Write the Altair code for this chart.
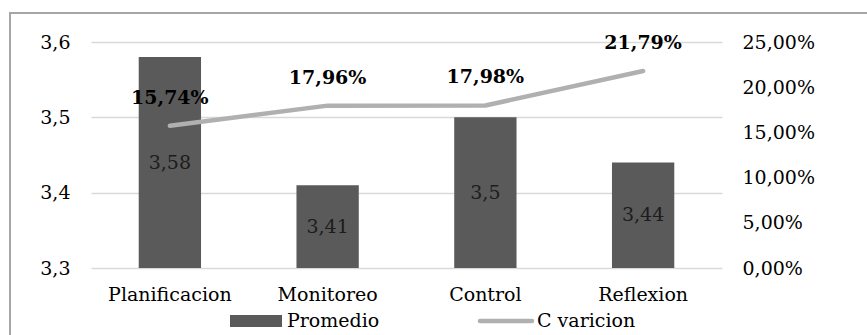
import altair as alt
import pandas as pd

# Chart data
categorias = ["Planificacion", "Monitoreo", "Control", "Reflexion"]
promedio = [3.58, 3.41, 3.5, 3.44]
variacion = [0.1574, 0.1796, 0.1798, 0.2179]
leyenda = ["Promedio", "C varicion"]

df = pd.DataFrame({"categoria": categorias, "promedio": promedio, "variacion": variacion})

FONT = "DejaVu Serif"
BAR = "#5a5a5a"
LINE = "#b0b0b0"
GRID = "#d9d9d9"
FS = 19

W, H = 631, 226
PAD = {"left": 91, "top": 42, "right": 867 - 91 - W, "bottom": 335 - 42 - H}

x = alt.X(
    "categoria:N",
    sort=categorias,
    scale=alt.Scale(paddingInner=0.605, paddingOuter=0.3025),
    axis=alt.Axis(title=None, labelAngle=0, ticks=False, domain=False,
                  labelPadding=17, labelFontSize=FS, labelFont=FONT,
                  labelColor="#000000"),
)

y_left = alt.Scale(domain=[3.3, 3.6], nice=False, zero=False)
y_right = alt.Scale(domain=[0, 0.25], nice=False, zero=True)

axis_left = alt.Axis(title=None, values=[3.3, 3.4, 3.5, 3.6], ticks=False,
                     domain=False, grid=True, gridColor=GRID, gridWidth=1.5,
                     labelPadding=21, labelFontSize=FS, labelFont=FONT,
                     labelColor="#000000",
                     labelExpr="replace(format(datum.value, '.1f'), '.', ',')")
axis_right = alt.Axis(title=None, orient="right", values=[0, 0.05, 0.1, 0.15, 0.2, 0.25],
                      ticks=False, domain=False, grid=False, labelPadding=20,
                      labelFontSize=FS, labelFont=FONT, labelColor="#000000",
                      labelAlign="left",
                      labelExpr="replace(format(datum.value, '.2%'), '.', ',')")

base = alt.Chart(df)

bars = base.mark_bar(color=BAR).encode(
    x=x,
    y=alt.Y("promedio:Q", scale=y_left, axis=axis_left),
    y2=alt.datum(3.3),
)

bar_labels = base.transform_calculate(
    mid="(3.3 + datum.promedio) / 2",
    txt="replace(toString(datum.promedio), '.', ',')",
).mark_text(font=FONT, fontSize=FS, color="#1c1c1c", baseline="middle").encode(
    x=x,
    y=alt.Y("mid:Q", scale=y_left, axis=axis_left),
    text="txt:N",
)

line = base.mark_line(color=LINE, strokeWidth=4.5, strokeCap="round", strokeJoin="round").encode(
    x=x,
    y=alt.Y("variacion:Q", scale=y_right, axis=axis_right),
)

line_labels = base.transform_calculate(
    txt="replace(format(datum.variacion, '.2%'), '.', ',')"
).mark_text(font=FONT, fontSize=FS, fontWeight="bold", color="#000000",
            baseline="alphabetic", dy=-22).encode(
    x=x,
    y=alt.Y("variacion:Q", scale=y_right, axis=axis_right),
    text="txt:N",
)

# Outer frame around the chart
frame = alt.Chart(pd.DataFrame({"k": [0]})).mark_rect(
    fill=None, stroke="#a6a6a6", strokeWidth=2
).encode(x=alt.value(-81), x2=alt.value(W + 200), y=alt.value(-29), y2=alt.value(H + 200))

# Legend drawn below the axis
leg = pd.DataFrame({"nombre": leyenda})
leg_bar = alt.Chart(leg).transform_filter(alt.datum.nombre == leyenda[0]).mark_rect(color=BAR).encode(
    x=alt.value(139), x2=alt.value(191), y=alt.value(273), y2=alt.value(285))
leg_bar_txt = alt.Chart(leg).transform_filter(alt.datum.nombre == leyenda[0]).mark_text(
    font=FONT, fontSize=FS, align="left", baseline="alphabetic", color="#000000").encode(
    x=alt.value(196), y=alt.value(285), text="nombre:N")
leg_line = alt.Chart(leg).transform_filter(alt.datum.nombre == leyenda[1]).mark_rule(
    color=LINE, strokeWidth=4.5, strokeCap="round").encode(
    x=alt.value(389), x2=alt.value(441), y=alt.value(279))
leg_line_txt = alt.Chart(leg).transform_filter(alt.datum.nombre == leyenda[1]).mark_text(
    font=FONT, fontSize=FS, align="left", baseline="alphabetic", color="#000000").encode(
    x=alt.value(446), y=alt.value(285), text="nombre:N")

left_layer = alt.layer(bars, bar_labels)
right_layer = alt.layer(line, line_labels)

chart = alt.layer(
    left_layer, right_layer, frame, leg_bar, leg_bar_txt, leg_line, leg_line_txt
).resolve_scale(y="independent").properties(
    width=W, height=H, padding=PAD,
    autosize=alt.AutoSizeParams(type="none"),
    background="#ffffff",
).configure_view(stroke=None)

chart.save("out.html", embed_options={"renderer": "svg", "actions": False})
